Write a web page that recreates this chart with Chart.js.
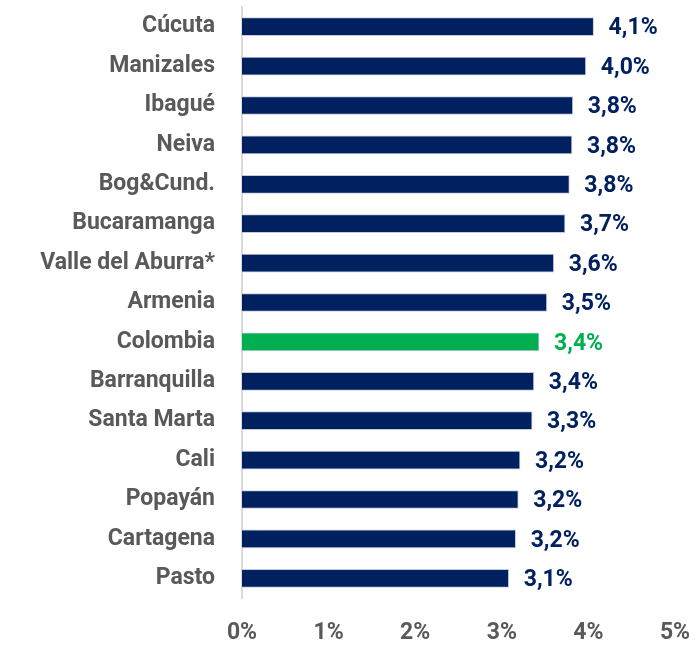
<!DOCTYPE html>
<html>
<head>
<meta charset="utf-8">
<script src="https://cdn.jsdelivr.net/npm/chart.js@4"></script>
<style>
  html, body { margin: 0; padding: 0; background: #fff; }
  #wrap { width: 700px; height: 645px; }
</style>
</head>
<body>
<div id="wrap"><canvas id="barChart"></canvas></div>
<script>
// Data
const cities = ["Cúcuta", "Manizales", "Ibagué", "Neiva", "Bog&Cund.", "Bucaramanga",
  "Valle del Aburra*", "Armenia", "Colombia", "Barranquilla", "Santa Marta", "Cali",
  "Popayán", "Cartagena", "Pasto"];
const values = [4.06, 3.97, 3.82, 3.81, 3.78, 3.73, 3.60, 3.52, 3.43, 3.37, 3.35, 3.21, 3.19, 3.16, 3.08];
const valueLabels = ["4,1%", "4,0%", "3,8%", "3,8%", "3,8%", "3,7%", "3,6%", "3,5%", "3,4%",
  "3,4%", "3,3%", "3,2%", "3,2%", "3,2%", "3,1%"];
const tickLabels = ["0%", "1%", "2%", "3%", "4%", "5%"];

const navy = "#002060";
const green = "#00B050";
const grey = "#595959";
const fontFamily = "Roboto, 'DejaVu Sans Condensed', sans-serif";

const barColors = cities.map(c => c === "Colombia" ? green : navy);

// Draw the value labels to the right of each bar
const valueLabelPlugin = {
  id: "valueLabels",
  afterDatasetsDraw(chart) {
    const ctx = chart.ctx;
    const meta = chart.getDatasetMeta(0);
    ctx.save();
    ctx.font = "bold 23px " + fontFamily;
    ctx.textAlign = "left";
    ctx.textBaseline = "middle";
    meta.data.forEach((bar, i) => {
      ctx.fillStyle = barColors[i];
      ctx.fillText(valueLabels[i], bar.x + 15, bar.y + 2);
    });
    ctx.restore();
  }
};

const ctx = document.getElementById("barChart").getContext("2d");
new Chart(ctx, {
  type: "bar",
  data: {
    labels: cities,
    datasets: [{
      data: values,
      backgroundColor: barColors,
      borderColor: "rgba(180, 190, 210, 0.8)",
      borderWidth: 1,
      barThickness: 18
    }]
  },
  options: {
    indexAxis: "y",
    responsive: true,
    maintainAspectRatio: false,
    animation: false,
    layout: { padding: { top: 7, right: 25, bottom: 0, left: 0 } },
    plugins: {
      legend: { display: false },
      tooltip: { enabled: false }
    },
    scales: {
      x: {
        min: 0,
        max: 5,
        grid: { display: false, drawTicks: false },
        border: { display: false },
        afterFit: (axis) => {
          axis.height = 47;
          axis.paddingLeft = 0;
          axis.paddingRight = 0;
        },
        ticks: {
          stepSize: 1,
          padding: 21,
          color: grey,
          font: { family: fontFamily, size: 23, weight: "bold" },
          callback: (v) => tickLabels[v]
        }
      },
      y: {
        grid: { display: false, drawTicks: false },
        border: { display: true, color: "#d9d9d9", width: 2 },
        afterFit: (axis) => {
          axis.width = 242;
          axis.paddingTop = 0;
          axis.paddingBottom = 0;
        },
        ticks: {
          padding: 27,
          color: grey,
          font: { family: fontFamily, size: 23, weight: "bold" }
        }
      }
    }
  },
  plugins: [valueLabelPlugin]
});
</script>
</body>
</html>
